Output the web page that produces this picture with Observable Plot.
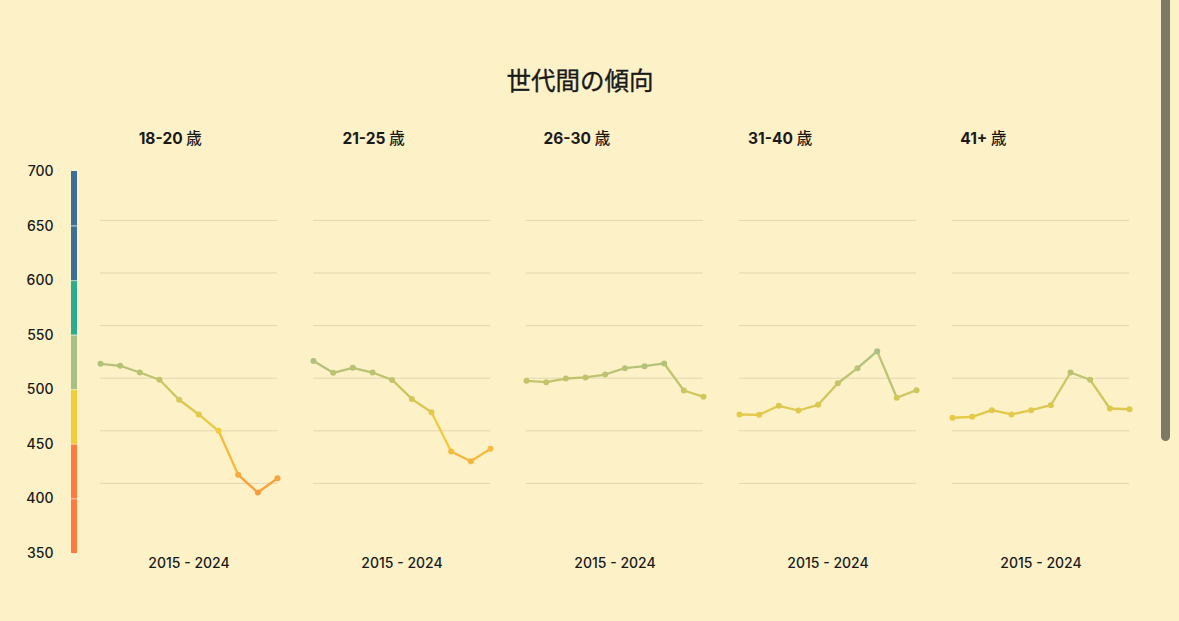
<!DOCTYPE html>
<html>
<head>
<meta charset="utf-8">
<script src="https://cdn.jsdelivr.net/npm/d3@7"></script>
<script src="https://cdn.jsdelivr.net/npm/@observablehq/plot@0.6"></script>
<style>
  html, body { margin: 0; padding: 0; background: #fdf1c8; overflow: hidden; }
  #root { position: relative; width: 1179px; height: 621px; background: #fdf1c8;
    font-family: Inter, "Noto Sans CJK JP", sans-serif; color: #1a1a1a; }
  #title { position: absolute; left: 0; top: 66px; width: 1160px; text-align: center;
    font-size: 24.5px; line-height: 28px; font-weight: 400; font-family: "Noto Sans CJK JP", sans-serif;
    -webkit-text-stroke: 0.35px #1a1a1a; }
  #labels { position: absolute; left: 68.6px; top: 127px; display: flex; }
  #labels div { width: 203.3px; text-align: center; font-size: 15.5px; font-weight: 700; line-height: 20px; }
  #labels span { font-weight: 500; font-family: "Noto Sans CJK JP", sans-serif; }
  #legend { position: absolute; left: 0; top: 150px; }
  #main { position: absolute; left: 0; top: 150px; }
  #thumb { position: absolute; left: 1161px; top: 0; width: 9px; height: 441px;
    background: #7e7963; border-radius: 0 0 5px 5px; }
</style>
</head>
<body>
<div id="root">
  <div id="title">世代間の傾向</div>
  <div id="labels"></div>
  <div id="legend"></div>
  <div id="main"></div>
  <div id="thumb"></div>
</div>
<script>
// ---- data ----
const groups = ["18-20", "21-25", "26-30", "31-40", "41+"];
const unit = "歳";
const years = [2015, 2016, 2017, 2018, 2019, 2020, 2021, 2022, 2023, 2024];
const v18_20 = [513.7, 511.8, 505.4, 498.5, 479.5, 465.5, 450.0, 408.2, 391.3, 404.9];
const v21_25 = [516.4, 505.1, 509.9, 505.4, 498.4, 480.3, 467.7, 430.3, 421.1, 432.9];
const v26_30 = [497.5, 496.2, 499.7, 500.7, 503.5, 509.5, 511.4, 514.0, 488.3, 482.3];
const v31_40 = [465.5, 465.2, 473.8, 469.3, 474.7, 495.2, 509.5, 525.7, 481.4, 488.6];
const v41 = [462.4, 463.3, 469.6, 465.5, 469.6, 474.3, 505.4, 498.5, 471.2, 470.5];
const seriesValues = [v18_20, v21_25, v26_30, v31_40, v41];
const xTickLabel = "2015 - 2024";
const gridTicks = [400, 450, 500, 550, 600, 650];
const legendTicks = [350, 400, 450, 500, 550, 600, 650, 700];
const thresholds = [450, 500, 550, 600];
const bandColors = ["#fd7b3f", "#f2cc3b", "#a8c085", "#2bab8f", "#3c6e98"];
const lineDomain = [350, 450, 525, 600, 700];

// ---- tables ----
const points = [];
groups.forEach((g, gi) => years.forEach((yr, i) => points.push({group: g, year: yr, value: seriesValues[gi][i]})));
const segments = [];
groups.forEach((g, gi) => {
  const v = seriesValues[gi];
  for (let i = 0; i < years.length - 1; ++i) {
    segments.push({group: g, x1: years[i], x2: years[i + 1], y1: v[i], y2: v[i + 1], c: (v[i] + v[i + 1]) / 2});
  }
});
const legendBands = d3.pairs(legendTicks).map(([a, b]) => ({y1: a, y2: b, mid: (a + b) / 2}));

// ---- facet labels (HTML text) ----
const lab = document.getElementById("labels");
groups.forEach(g => {
  const d = document.createElement("div");
  d.innerHTML = g + ' <span>' + unit + '</span>';
  lab.appendChild(d);
});

// ---- legend ----
const legend = Plot.plot({
  width: 90, height: 430,
  marginLeft: 71, marginRight: 13, marginTop: 21, marginBottom: 27,
  style: {background: "transparent", fontFamily: "Inter, sans-serif", fontSize: "14px", color: "#1a1a1a", overflow: "visible"},
  x: {axis: null},
  y: {domain: [350, 700], axis: null},
  color: {type: "threshold", domain: thresholds, range: bandColors},
  marks: [
    Plot.rect(legendBands, {y1: "y1", y2: "y2", fill: "mid"}),
    Plot.ruleY(legendTicks.slice(1, -1), {stroke: "white", strokeOpacity: 0.55, strokeWidth: 1}),
    Plot.text(legendTicks, {y: d => d, text: d => String(d), frameAnchor: "left", textAnchor: "end", dx: -18, fontSize: 14, fontWeight: 500, fill: "#1a1a1a"})
  ]
});
document.getElementById("legend").appendChild(legend);

// ---- main faceted chart ----
const main = Plot.plot({
  width: 1179, height: 430,
  marginLeft: 98, marginRight: 48, marginTop: 17.3, marginBottom: 44.5,
  style: {background: "transparent", fontFamily: "Inter, sans-serif", fontSize: "14px", color: "#1a1a1a", overflow: "visible"},
  fx: {domain: groups, paddingInner: 0.1685, paddingOuter: 0, label: null},
  x: {domain: [2015, 2024], axis: null},
  y: {domain: [350, 700], axis: null},
  color: {type: "linear", domain: lineDomain, range: bandColors, interpolate: "rgb"},
  marks: [
    Plot.ruleY(gridTicks, {stroke: "#e2d7b3", strokeWidth: 1}),
    Plot.link(segments, {fx: "group", x1: "x1", x2: "x2", y1: "y1", y2: "y2", stroke: "c", strokeWidth: 2.3, strokeLinecap: "round"}),
    Plot.dot(points, {fx: "group", x: "year", y: "value", fill: "value", r: 3}),
    Plot.axisFx({anchor: "bottom", tickFormat: () => xTickLabel, tickSize: 0, tickPadding: 22, fontSize: 14, fontWeight: 500, label: null, fill: "#1a1a1a"})
  ]
});
document.getElementById("main").appendChild(main);
</script>
</body>
</html>
